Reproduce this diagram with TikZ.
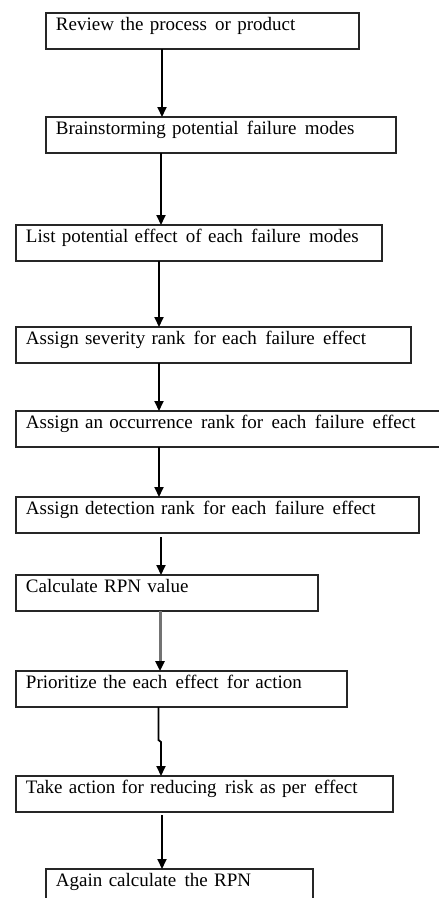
\documentclass[tikz,border=0pt]{standalone}
\usepackage{fontspec}
\setmainfont{Liberation Serif}
\usetikzlibrary{arrows.meta,calc}
\newcommand{\xs}{\hspace{2pt}}
\begin{document}
\begin{tikzpicture}[x=1pt,y=-1pt,
  stepbox/.style={draw=black!85,line width=1.6pt,anchor=north west,inner xsep=10pt,inner ysep=3pt,
    outer sep=0pt,align=left,text height=14pt,text depth=16pt,
    font=\fontsize{19}{22}\selectfont},
  arr/.style={line width=1.8pt,-{Triangle[length=10pt,width=9pt]}},
  grayarr/.style={line width=3pt,draw=black!55,-{Triangle[length=10pt,width=9pt,color=black]}}]
\useasboundingbox (0,0) rectangle (439,898);
\clip (0,0) rectangle (439,898);
\fill[white] (0,0) rectangle (439,898);
\node[stepbox,text width=293pt] (b1) at (46,13) {\mbox{Review the process \xs or product}};
\node[stepbox,text width=330pt] (b2) at (46,117) {\mbox{Brainstorming potential \xs failure \xs modes}};
\node[stepbox,text width=346pt] (b3) at (16,225) {\mbox{List potential effect \xs of each \xs failure \xs modes}};
\node[stepbox,text width=375pt] (b4) at (16,327) {\mbox{Assign severity rank \xs for each \xs failure \xs effect}};
\node[stepbox,text width=430pt] (b5) at (16,411) {\mbox{Assign an occurrence \xs rank for \xs each \xs failure \xs effect}};
\node[stepbox,text width=383pt] (b6) at (16,497) {\mbox{Assign detection rank \xs for each \xs failure \xs effect}};
\node[stepbox,text width=282pt] (b7) at (16,575) {\mbox{Calculate RPN value}};
\node[stepbox,text width=311pt] (b8) at (16,671) {\mbox{Prioritize the each \xs effect \xs for action}};
\node[stepbox,text width=357pt] (b9) at (16,776) {\mbox{Take action for reducing \xs risk as per \xs effect}};
\node[stepbox,text width=247pt] (b10) at (46,869) {\mbox{Again calculate \xs the RPN}};
\coordinate (s1) at ($(b1.south west)+(116,0)$);
\coordinate (s2) at ($(b2.south west)+(115,0)$);
\coordinate (s3) at ($(b3.south west)+(143,0)$);
\coordinate (s4) at ($(b4.south west)+(143,0)$);
\coordinate (s5) at ($(b5.south west)+(143,0)$);
\coordinate (s6) at ($(b6.south west)+(145,4)$);
\coordinate (s7) at ($(b7.south west)+(144,0)$);
\coordinate (s8) at ($(b8.south west)+(142.5,0)$);
\coordinate (j8) at ($(b8.south west)+(142.5,33)$);
\coordinate (k8) at ($(b8.south west)+(145,35)$);
\coordinate (s9) at ($(b9.south west)+(146,3)$);
\draw[arr] (s1) -- (s1 |- b2.north);
\draw[arr] (s2) -- (s2 |- b3.north);
\draw[arr] (s3) -- (s3 |- b4.north);
\draw[arr] (s4) -- (s4 |- b5.north);
\draw[arr] (s5) -- (s5 |- b6.north);
\draw[arr] (s6) -- (s6 |- b7.north);
\draw[grayarr] (s7) -- (s7 |- b8.north);
\draw[arr] (s8) -- (j8) -- (k8) -- (k8 |- b9.north);
\draw[arr] (s9) -- (s9 |- b10.north);
\end{tikzpicture}
\end{document}
